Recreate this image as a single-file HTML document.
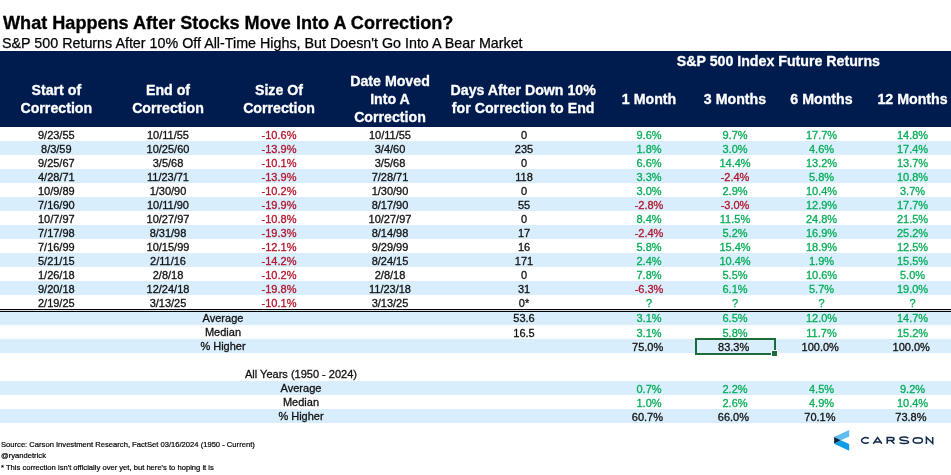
<!DOCTYPE html>
<html><head><meta charset="utf-8"><style>
html,body{margin:0;padding:0;background:#fff;}
body{width:951px;height:475px;position:relative;overflow:hidden;font-family:"Liberation Sans",sans-serif;}
#w{position:absolute;left:0;top:0;width:951px;height:475px;will-change:transform;}
.t{position:absolute;text-align:center;white-space:nowrap;line-height:14px;-webkit-text-stroke:0.3px currentColor;}
.r{position:absolute;}
.title{position:absolute;left:3px;top:12.3px;font-size:18.1px;font-weight:bold;color:#000;white-space:nowrap;line-height:22px;-webkit-text-stroke:0.3px #000;}
.sub{position:absolute;left:2px;top:33.5px;font-size:14.3px;color:#000;white-space:nowrap;line-height:18px;-webkit-text-stroke:0.25px #000;}
.foot{position:absolute;left:1px;font-size:7.62px;color:#000;white-space:nowrap;line-height:10px;-webkit-text-stroke:0.2px #000;}
.sel{position:absolute;left:695px;top:338px;width:77px;height:13px;border:2px solid #1d6b3a;}
.selh{position:absolute;left:771px;top:350px;width:5px;height:5px;background:#1d6b3a;border:1px solid #fff;}
</style></head><body><div id="w">
<div class="title">What Happens After Stocks Move Into A Correction?</div>
<div class="sub">S&amp;P 500 Returns After 10% Off All-Time Highs, But Doesn't Go Into A Bear Market</div>
<div class="r" style="left:0px;top:51px;width:951px;height:76px;background:#001b4d"></div><div class="r" style="left:0px;top:141px;width:951px;height:14px;background:#d8eefc"></div><div class="r" style="left:0px;top:169px;width:951px;height:14px;background:#d8eefc"></div><div class="r" style="left:0px;top:197px;width:951px;height:14px;background:#d8eefc"></div><div class="r" style="left:0px;top:225px;width:951px;height:14px;background:#d8eefc"></div><div class="r" style="left:0px;top:253px;width:951px;height:14px;background:#d8eefc"></div><div class="r" style="left:0px;top:281px;width:951px;height:14px;background:#d8eefc"></div><div class="r" style="left:0px;top:309px;width:951px;height:1px;background:#000"></div><div class="r" style="left:0px;top:310px;width:951px;height:1px;background:#cfe3ee"></div><div class="r" style="left:0px;top:311px;width:951px;height:1px;background:#000"></div><div class="r" style="left:0px;top:312px;width:951px;height:13px;background:#d8eefc"></div><div class="r" style="left:0px;top:339px;width:951px;height:14px;background:#d8eefc"></div><div class="r" style="left:0px;top:381px;width:951px;height:14px;background:#d8eefc"></div><div class="r" style="left:0px;top:409px;width:951px;height:14px;background:#d8eefc"></div><div class="t" style="left:-43.7px;top:127.6px;width:200px;color:#111;font-size:11px;font-weight:normal">9/23/55</div><div class="t" style="left:68.0px;top:127.6px;width:200px;color:#111;font-size:11px;font-weight:normal">10/11/55</div><div class="t" style="left:179.0px;top:127.6px;width:200px;color:#b3142b;font-size:11px;font-weight:normal">-10.6%</div><div class="t" style="left:290.0px;top:127.6px;width:200px;color:#111;font-size:11px;font-weight:normal">10/11/55</div><div class="t" style="left:424.0px;top:127.6px;width:200px;color:#111;font-size:11px;font-weight:normal">0</div><div class="t" style="left:549.0px;top:127.6px;width:200px;color:#07ad58;font-size:11px;font-weight:normal">9.6%</div><div class="t" style="left:635.0px;top:127.6px;width:200px;color:#07ad58;font-size:11px;font-weight:normal">9.7%</div><div class="t" style="left:721.5px;top:127.6px;width:200px;color:#07ad58;font-size:11px;font-weight:normal">17.7%</div><div class="t" style="left:812.5px;top:127.6px;width:200px;color:#07ad58;font-size:11px;font-weight:normal">14.8%</div><div class="t" style="left:-43.7px;top:141.6px;width:200px;color:#111;font-size:11px;font-weight:normal">8/3/59</div><div class="t" style="left:68.0px;top:141.6px;width:200px;color:#111;font-size:11px;font-weight:normal">10/25/60</div><div class="t" style="left:179.0px;top:141.6px;width:200px;color:#b3142b;font-size:11px;font-weight:normal">-13.9%</div><div class="t" style="left:290.0px;top:141.6px;width:200px;color:#111;font-size:11px;font-weight:normal">3/4/60</div><div class="t" style="left:424.0px;top:141.6px;width:200px;color:#111;font-size:11px;font-weight:normal">235</div><div class="t" style="left:549.0px;top:141.6px;width:200px;color:#07ad58;font-size:11px;font-weight:normal">1.8%</div><div class="t" style="left:635.0px;top:141.6px;width:200px;color:#07ad58;font-size:11px;font-weight:normal">3.0%</div><div class="t" style="left:721.5px;top:141.6px;width:200px;color:#07ad58;font-size:11px;font-weight:normal">4.6%</div><div class="t" style="left:812.5px;top:141.6px;width:200px;color:#07ad58;font-size:11px;font-weight:normal">17.4%</div><div class="t" style="left:-43.7px;top:155.6px;width:200px;color:#111;font-size:11px;font-weight:normal">9/25/67</div><div class="t" style="left:68.0px;top:155.6px;width:200px;color:#111;font-size:11px;font-weight:normal">3/5/68</div><div class="t" style="left:179.0px;top:155.6px;width:200px;color:#b3142b;font-size:11px;font-weight:normal">-10.1%</div><div class="t" style="left:290.0px;top:155.6px;width:200px;color:#111;font-size:11px;font-weight:normal">3/5/68</div><div class="t" style="left:424.0px;top:155.6px;width:200px;color:#111;font-size:11px;font-weight:normal">0</div><div class="t" style="left:549.0px;top:155.6px;width:200px;color:#07ad58;font-size:11px;font-weight:normal">6.6%</div><div class="t" style="left:635.0px;top:155.6px;width:200px;color:#07ad58;font-size:11px;font-weight:normal">14.4%</div><div class="t" style="left:721.5px;top:155.6px;width:200px;color:#07ad58;font-size:11px;font-weight:normal">13.2%</div><div class="t" style="left:812.5px;top:155.6px;width:200px;color:#07ad58;font-size:11px;font-weight:normal">13.7%</div><div class="t" style="left:-43.7px;top:169.6px;width:200px;color:#111;font-size:11px;font-weight:normal">4/28/71</div><div class="t" style="left:68.0px;top:169.6px;width:200px;color:#111;font-size:11px;font-weight:normal">11/23/71</div><div class="t" style="left:179.0px;top:169.6px;width:200px;color:#b3142b;font-size:11px;font-weight:normal">-13.9%</div><div class="t" style="left:290.0px;top:169.6px;width:200px;color:#111;font-size:11px;font-weight:normal">7/28/71</div><div class="t" style="left:424.0px;top:169.6px;width:200px;color:#111;font-size:11px;font-weight:normal">118</div><div class="t" style="left:549.0px;top:169.6px;width:200px;color:#07ad58;font-size:11px;font-weight:normal">3.3%</div><div class="t" style="left:635.0px;top:169.6px;width:200px;color:#b3142b;font-size:11px;font-weight:normal">-2.4%</div><div class="t" style="left:721.5px;top:169.6px;width:200px;color:#07ad58;font-size:11px;font-weight:normal">5.8%</div><div class="t" style="left:812.5px;top:169.6px;width:200px;color:#07ad58;font-size:11px;font-weight:normal">10.8%</div><div class="t" style="left:-43.7px;top:183.6px;width:200px;color:#111;font-size:11px;font-weight:normal">10/9/89</div><div class="t" style="left:68.0px;top:183.6px;width:200px;color:#111;font-size:11px;font-weight:normal">1/30/90</div><div class="t" style="left:179.0px;top:183.6px;width:200px;color:#b3142b;font-size:11px;font-weight:normal">-10.2%</div><div class="t" style="left:290.0px;top:183.6px;width:200px;color:#111;font-size:11px;font-weight:normal">1/30/90</div><div class="t" style="left:424.0px;top:183.6px;width:200px;color:#111;font-size:11px;font-weight:normal">0</div><div class="t" style="left:549.0px;top:183.6px;width:200px;color:#07ad58;font-size:11px;font-weight:normal">3.0%</div><div class="t" style="left:635.0px;top:183.6px;width:200px;color:#07ad58;font-size:11px;font-weight:normal">2.9%</div><div class="t" style="left:721.5px;top:183.6px;width:200px;color:#07ad58;font-size:11px;font-weight:normal">10.4%</div><div class="t" style="left:812.5px;top:183.6px;width:200px;color:#07ad58;font-size:11px;font-weight:normal">3.7%</div><div class="t" style="left:-43.7px;top:197.6px;width:200px;color:#111;font-size:11px;font-weight:normal">7/16/90</div><div class="t" style="left:68.0px;top:197.6px;width:200px;color:#111;font-size:11px;font-weight:normal">10/11/90</div><div class="t" style="left:179.0px;top:197.6px;width:200px;color:#b3142b;font-size:11px;font-weight:normal">-19.9%</div><div class="t" style="left:290.0px;top:197.6px;width:200px;color:#111;font-size:11px;font-weight:normal">8/17/90</div><div class="t" style="left:424.0px;top:197.6px;width:200px;color:#111;font-size:11px;font-weight:normal">55</div><div class="t" style="left:549.0px;top:197.6px;width:200px;color:#b3142b;font-size:11px;font-weight:normal">-2.8%</div><div class="t" style="left:635.0px;top:197.6px;width:200px;color:#b3142b;font-size:11px;font-weight:normal">-3.0%</div><div class="t" style="left:721.5px;top:197.6px;width:200px;color:#07ad58;font-size:11px;font-weight:normal">12.9%</div><div class="t" style="left:812.5px;top:197.6px;width:200px;color:#07ad58;font-size:11px;font-weight:normal">17.7%</div><div class="t" style="left:-43.7px;top:211.6px;width:200px;color:#111;font-size:11px;font-weight:normal">10/7/97</div><div class="t" style="left:68.0px;top:211.6px;width:200px;color:#111;font-size:11px;font-weight:normal">10/27/97</div><div class="t" style="left:179.0px;top:211.6px;width:200px;color:#b3142b;font-size:11px;font-weight:normal">-10.8%</div><div class="t" style="left:290.0px;top:211.6px;width:200px;color:#111;font-size:11px;font-weight:normal">10/27/97</div><div class="t" style="left:424.0px;top:211.6px;width:200px;color:#111;font-size:11px;font-weight:normal">0</div><div class="t" style="left:549.0px;top:211.6px;width:200px;color:#07ad58;font-size:11px;font-weight:normal">8.4%</div><div class="t" style="left:635.0px;top:211.6px;width:200px;color:#07ad58;font-size:11px;font-weight:normal">11.5%</div><div class="t" style="left:721.5px;top:211.6px;width:200px;color:#07ad58;font-size:11px;font-weight:normal">24.8%</div><div class="t" style="left:812.5px;top:211.6px;width:200px;color:#07ad58;font-size:11px;font-weight:normal">21.5%</div><div class="t" style="left:-43.7px;top:225.6px;width:200px;color:#111;font-size:11px;font-weight:normal">7/17/98</div><div class="t" style="left:68.0px;top:225.6px;width:200px;color:#111;font-size:11px;font-weight:normal">8/31/98</div><div class="t" style="left:179.0px;top:225.6px;width:200px;color:#b3142b;font-size:11px;font-weight:normal">-19.3%</div><div class="t" style="left:290.0px;top:225.6px;width:200px;color:#111;font-size:11px;font-weight:normal">8/14/98</div><div class="t" style="left:424.0px;top:225.6px;width:200px;color:#111;font-size:11px;font-weight:normal">17</div><div class="t" style="left:549.0px;top:225.6px;width:200px;color:#b3142b;font-size:11px;font-weight:normal">-2.4%</div><div class="t" style="left:635.0px;top:225.6px;width:200px;color:#07ad58;font-size:11px;font-weight:normal">5.2%</div><div class="t" style="left:721.5px;top:225.6px;width:200px;color:#07ad58;font-size:11px;font-weight:normal">16.9%</div><div class="t" style="left:812.5px;top:225.6px;width:200px;color:#07ad58;font-size:11px;font-weight:normal">25.2%</div><div class="t" style="left:-43.7px;top:239.6px;width:200px;color:#111;font-size:11px;font-weight:normal">7/16/99</div><div class="t" style="left:68.0px;top:239.6px;width:200px;color:#111;font-size:11px;font-weight:normal">10/15/99</div><div class="t" style="left:179.0px;top:239.6px;width:200px;color:#b3142b;font-size:11px;font-weight:normal">-12.1%</div><div class="t" style="left:290.0px;top:239.6px;width:200px;color:#111;font-size:11px;font-weight:normal">9/29/99</div><div class="t" style="left:424.0px;top:239.6px;width:200px;color:#111;font-size:11px;font-weight:normal">16</div><div class="t" style="left:549.0px;top:239.6px;width:200px;color:#07ad58;font-size:11px;font-weight:normal">5.8%</div><div class="t" style="left:635.0px;top:239.6px;width:200px;color:#07ad58;font-size:11px;font-weight:normal">15.4%</div><div class="t" style="left:721.5px;top:239.6px;width:200px;color:#07ad58;font-size:11px;font-weight:normal">18.9%</div><div class="t" style="left:812.5px;top:239.6px;width:200px;color:#07ad58;font-size:11px;font-weight:normal">12.5%</div><div class="t" style="left:-43.7px;top:253.6px;width:200px;color:#111;font-size:11px;font-weight:normal">5/21/15</div><div class="t" style="left:68.0px;top:253.6px;width:200px;color:#111;font-size:11px;font-weight:normal">2/11/16</div><div class="t" style="left:179.0px;top:253.6px;width:200px;color:#b3142b;font-size:11px;font-weight:normal">-14.2%</div><div class="t" style="left:290.0px;top:253.6px;width:200px;color:#111;font-size:11px;font-weight:normal">8/24/15</div><div class="t" style="left:424.0px;top:253.6px;width:200px;color:#111;font-size:11px;font-weight:normal">171</div><div class="t" style="left:549.0px;top:253.6px;width:200px;color:#07ad58;font-size:11px;font-weight:normal">2.4%</div><div class="t" style="left:635.0px;top:253.6px;width:200px;color:#07ad58;font-size:11px;font-weight:normal">10.4%</div><div class="t" style="left:721.5px;top:253.6px;width:200px;color:#07ad58;font-size:11px;font-weight:normal">1.9%</div><div class="t" style="left:812.5px;top:253.6px;width:200px;color:#07ad58;font-size:11px;font-weight:normal">15.5%</div><div class="t" style="left:-43.7px;top:267.6px;width:200px;color:#111;font-size:11px;font-weight:normal">1/26/18</div><div class="t" style="left:68.0px;top:267.6px;width:200px;color:#111;font-size:11px;font-weight:normal">2/8/18</div><div class="t" style="left:179.0px;top:267.6px;width:200px;color:#b3142b;font-size:11px;font-weight:normal">-10.2%</div><div class="t" style="left:290.0px;top:267.6px;width:200px;color:#111;font-size:11px;font-weight:normal">2/8/18</div><div class="t" style="left:424.0px;top:267.6px;width:200px;color:#111;font-size:11px;font-weight:normal">0</div><div class="t" style="left:549.0px;top:267.6px;width:200px;color:#07ad58;font-size:11px;font-weight:normal">7.8%</div><div class="t" style="left:635.0px;top:267.6px;width:200px;color:#07ad58;font-size:11px;font-weight:normal">5.5%</div><div class="t" style="left:721.5px;top:267.6px;width:200px;color:#07ad58;font-size:11px;font-weight:normal">10.6%</div><div class="t" style="left:812.5px;top:267.6px;width:200px;color:#07ad58;font-size:11px;font-weight:normal">5.0%</div><div class="t" style="left:-43.7px;top:281.6px;width:200px;color:#111;font-size:11px;font-weight:normal">9/20/18</div><div class="t" style="left:68.0px;top:281.6px;width:200px;color:#111;font-size:11px;font-weight:normal">12/24/18</div><div class="t" style="left:179.0px;top:281.6px;width:200px;color:#b3142b;font-size:11px;font-weight:normal">-19.8%</div><div class="t" style="left:290.0px;top:281.6px;width:200px;color:#111;font-size:11px;font-weight:normal">11/23/18</div><div class="t" style="left:424.0px;top:281.6px;width:200px;color:#111;font-size:11px;font-weight:normal">31</div><div class="t" style="left:549.0px;top:281.6px;width:200px;color:#b3142b;font-size:11px;font-weight:normal">-6.3%</div><div class="t" style="left:635.0px;top:281.6px;width:200px;color:#07ad58;font-size:11px;font-weight:normal">6.1%</div><div class="t" style="left:721.5px;top:281.6px;width:200px;color:#07ad58;font-size:11px;font-weight:normal">5.7%</div><div class="t" style="left:812.5px;top:281.6px;width:200px;color:#07ad58;font-size:11px;font-weight:normal">19.0%</div><div class="t" style="left:-43.7px;top:295.6px;width:200px;color:#111;font-size:11px;font-weight:normal">2/19/25</div><div class="t" style="left:68.0px;top:295.6px;width:200px;color:#111;font-size:11px;font-weight:normal">3/13/25</div><div class="t" style="left:179.0px;top:295.6px;width:200px;color:#b3142b;font-size:11px;font-weight:normal">-10.1%</div><div class="t" style="left:290.0px;top:295.6px;width:200px;color:#111;font-size:11px;font-weight:normal">3/13/25</div><div class="t" style="left:424.0px;top:295.6px;width:200px;color:#111;font-size:11px;font-weight:normal">0*</div><div class="t" style="left:549.0px;top:295.6px;width:200px;color:#07ad58;font-size:11px;font-weight:normal">?</div><div class="t" style="left:635.0px;top:295.6px;width:200px;color:#07ad58;font-size:11px;font-weight:normal">?</div><div class="t" style="left:721.5px;top:295.6px;width:200px;color:#07ad58;font-size:11px;font-weight:normal">?</div><div class="t" style="left:812.5px;top:295.6px;width:200px;color:#07ad58;font-size:11px;font-weight:normal">?</div><div class="t" style="left:123.0px;top:310.6px;width:200px;color:#111;font-size:11px;font-weight:normal">Average</div><div class="t" style="left:424.0px;top:310.6px;width:200px;color:#111;font-size:11px;font-weight:normal">53.6</div><div class="t" style="left:549.0px;top:310.6px;width:200px;color:#07ad58;font-size:11px;font-weight:normal">3.1%</div><div class="t" style="left:635.0px;top:310.6px;width:200px;color:#07ad58;font-size:11px;font-weight:normal">6.5%</div><div class="t" style="left:721.5px;top:310.6px;width:200px;color:#07ad58;font-size:11px;font-weight:normal">12.0%</div><div class="t" style="left:812.5px;top:310.6px;width:200px;color:#07ad58;font-size:11px;font-weight:normal">14.7%</div><div class="t" style="left:123.0px;top:324.6px;width:200px;color:#111;font-size:11px;font-weight:normal">Median</div><div class="t" style="left:424.0px;top:325.6px;width:200px;color:#111;font-size:11px;font-weight:normal">16.5</div><div class="t" style="left:549.0px;top:325.6px;width:200px;color:#07ad58;font-size:11px;font-weight:normal">3.1%</div><div class="t" style="left:635.0px;top:325.6px;width:200px;color:#07ad58;font-size:11px;font-weight:normal">5.8%</div><div class="t" style="left:721.5px;top:325.6px;width:200px;color:#07ad58;font-size:11px;font-weight:normal">11.7%</div><div class="t" style="left:812.5px;top:325.6px;width:200px;color:#07ad58;font-size:11px;font-weight:normal">15.2%</div><div class="t" style="left:123.0px;top:338.9px;width:200px;color:#111;font-size:11px;font-weight:normal">% Higher</div><div class="t" style="left:547.7px;top:339.6px;width:200px;color:#111;font-size:11px;font-weight:normal">75.0%</div><div class="t" style="left:633.7px;top:339.6px;width:200px;color:#111;font-size:11px;font-weight:normal">83.3%</div><div class="t" style="left:720.2px;top:339.6px;width:200px;color:#111;font-size:11px;font-weight:normal">100.0%</div><div class="t" style="left:811.2px;top:339.6px;width:200px;color:#111;font-size:11px;font-weight:normal">100.0%</div><div class="t" style="left:201.0px;top:366.8px;width:200px;color:#111;font-size:11px;font-weight:normal">All Years (1950 - 2024)</div><div class="t" style="left:201.0px;top:380.8px;width:200px;color:#111;font-size:11px;font-weight:normal">Average</div><div class="t" style="left:549.0px;top:381.6px;width:200px;color:#07ad58;font-size:11px;font-weight:normal">0.7%</div><div class="t" style="left:635.0px;top:381.6px;width:200px;color:#07ad58;font-size:11px;font-weight:normal">2.2%</div><div class="t" style="left:721.5px;top:381.6px;width:200px;color:#07ad58;font-size:11px;font-weight:normal">4.5%</div><div class="t" style="left:812.5px;top:381.6px;width:200px;color:#07ad58;font-size:11px;font-weight:normal">9.2%</div><div class="t" style="left:201.0px;top:394.8px;width:200px;color:#111;font-size:11px;font-weight:normal">Median</div><div class="t" style="left:549.0px;top:395.6px;width:200px;color:#07ad58;font-size:11px;font-weight:normal">1.0%</div><div class="t" style="left:635.0px;top:395.6px;width:200px;color:#07ad58;font-size:11px;font-weight:normal">2.6%</div><div class="t" style="left:721.5px;top:395.6px;width:200px;color:#07ad58;font-size:11px;font-weight:normal">4.9%</div><div class="t" style="left:812.5px;top:395.6px;width:200px;color:#07ad58;font-size:11px;font-weight:normal">10.4%</div><div class="t" style="left:201.0px;top:408.8px;width:200px;color:#111;font-size:11px;font-weight:normal">% Higher</div><div class="t" style="left:547.4px;top:409.6px;width:200px;color:#111;font-size:11px;font-weight:normal">60.7%</div><div class="t" style="left:633.4px;top:409.6px;width:200px;color:#111;font-size:11px;font-weight:normal">66.0%</div><div class="t" style="left:719.9px;top:409.6px;width:200px;color:#111;font-size:11px;font-weight:normal">70.1%</div><div class="t" style="left:810.9px;top:409.6px;width:200px;color:#111;font-size:11px;font-weight:normal">73.8%</div><div class="t" style="left:-43.7px;top:83.0px;width:200px;color:#fff;font-size:14.2px;font-weight:bold">Start of</div><div class="t" style="left:-43.7px;top:101.0px;width:200px;color:#fff;font-size:14.2px;font-weight:bold">Correction</div><div class="t" style="left:68.0px;top:83.0px;width:200px;color:#fff;font-size:14.2px;font-weight:bold">End of</div><div class="t" style="left:68.0px;top:101.0px;width:200px;color:#fff;font-size:14.2px;font-weight:bold">Correction</div><div class="t" style="left:179.0px;top:83.0px;width:200px;color:#fff;font-size:14.2px;font-weight:bold">Size Of</div><div class="t" style="left:179.0px;top:101.0px;width:200px;color:#fff;font-size:14.2px;font-weight:bold">Correction</div><div class="t" style="left:290.0px;top:74.0px;width:200px;color:#fff;font-size:14.2px;font-weight:bold">Date Moved</div><div class="t" style="left:290.0px;top:92.0px;width:200px;color:#fff;font-size:14.2px;font-weight:bold">Into A</div><div class="t" style="left:290.0px;top:110.0px;width:200px;color:#fff;font-size:14.2px;font-weight:bold">Correction</div><div class="t" style="left:423.2px;top:83.0px;width:200px;color:#fff;font-size:14.2px;font-weight:bold">Days After Down 10%</div><div class="t" style="left:423.2px;top:101.0px;width:200px;color:#fff;font-size:14.2px;font-weight:bold">for Correction to End</div><div class="t" style="left:549.0px;top:92.0px;width:200px;color:#fff;font-size:14.2px;font-weight:bold">1 Month</div><div class="t" style="left:635.0px;top:92.0px;width:200px;color:#fff;font-size:14.2px;font-weight:bold">3 Months</div><div class="t" style="left:721.5px;top:92.0px;width:200px;color:#fff;font-size:14.2px;font-weight:bold">6 Months</div><div class="t" style="left:812.5px;top:92.0px;width:200px;color:#fff;font-size:14.2px;font-weight:bold">12 Months</div><div class="t" style="left:676.8px;top:53.5px;width:200px;color:#fff;font-size:14.2px;font-weight:bold">S&amp;P 500 Index Future Returns</div>
<div class="sel"></div><div class="selh"></div>
<div class="foot" style="top:439.5px">Source: Carson Investment Research, FactSet 03/16/2024 (1950 - Current)</div>
<div class="foot" style="top:451.3px">@ryandetrick</div>
<div class="foot" style="top:462.7px">* This correction isn't officially over yet, but here's to hoping it is</div>
<svg style="position:absolute;left:830px;top:425px" width="110" height="30" viewBox="830 425 110 30">
<polygon points="834.1,436.9 849.2,430.1 849.2,436.6 840.9,440.2" fill="#5fbdf0"/>
<polygon points="834.1,436.9 840.9,440.2 834.1,443.7" fill="#0b2540"/>
<polygon points="834.1,443.7 840.9,440.2 849.2,444 849.2,450.8" fill="#0f9de6"/>
<g fill="none" stroke="#10294a" stroke-width="1.5">
<path d="M868.7,438.5 A4.2,2.65 0 1 0 868.7,442.3"/>
<path d="M873.3,443.7 L877.6,437.5 L881.9,443.7 M875.2,441.9 L880,441.9"/>
<path d="M887.2,443.7 L887.2,437.6 L892,437.6 Q894,437.6 894,439.1 Q894,440.6 892,440.6 L887.2,440.6 M891.2,440.6 L894.4,443.7"/>
<path d="M908.3,438.1 Q906.5,437.1 904,437.1 Q899.9,437.1 899.9,438.8 Q899.9,440.3 904,440.4 Q908.6,440.5 908.6,442.1 Q908.6,443.6 904.2,443.6 Q901.2,443.6 899.6,442.6"/>
<ellipse cx="917.8" cy="440.4" rx="4.6" ry="2.65"/>
<path d="M926.4,443.9 L926.4,437.3 L932.7,443.5 L932.7,436.9"/>
</g>
</svg>
</div></body></html>
